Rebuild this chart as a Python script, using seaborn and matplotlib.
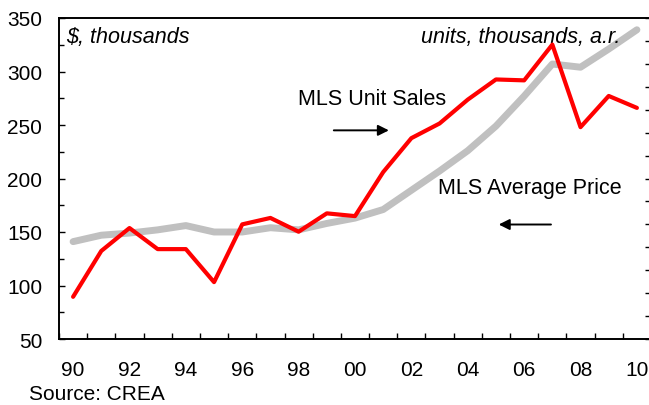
import matplotlib
matplotlib.use('Agg')
import matplotlib.pyplot as plt
from matplotlib.ticker import MultipleLocator, FixedLocator
import numpy as np
import pandas as pd
import seaborn as sns

years = list(range(1990, 2011))
# MLS average price, $ thousands (left axis)
avg_price = [141, 147, 149, 152, 156, 150, 150, 154, 152, 158, 163,
             171, 189, 207, 226, 249, 277, 307, 304, 321, 339]
# MLS unit sales, thousands a.r. (right axis, labels cut off in the original)
unit_sales = [246, 296, 321, 298, 298, 262, 325, 332, 317, 337, 334,
              382, 419, 435, 461, 483, 482, 521, 431, 465, 452]
tick_labels = ['90', '92', '94', '96', '98', '00', '02', '04', '06', '08', '10']

df = pd.DataFrame({'idx': np.arange(len(years)), 'year': years,
                   'price': avg_price, 'sales': unit_sales})

sns.set_style('white')
plt.rcParams['font.family'] = ['Liberation Sans', 'DejaVu Sans']
plt.rcParams['text.color'] = 'black'
plt.rcParams['xtick.color'] = 'black'
plt.rcParams['ytick.color'] = 'black'

fig = plt.figure(figsize=(6.49, 4.06), dpi=100)
ax = fig.add_axes([59 / 649, 66 / 406, 592 / 649, 321 / 406])

sns.lineplot(data=df, x='idx', y='price', ax=ax, color='#c0c0c0', lw=5,
             solid_capstyle='round')
ax2 = ax.twinx()
sns.lineplot(data=df, x='idx', y='sales', ax=ax2, color='#ff0000', lw=3,
             solid_capstyle='round')

ax.set_xlim(-0.5, 20.5)
ax.set_ylim(50, 350)
ax2.set_ylim(200, 550)

# category style x axis: ticks between years, labels every other year
ax.xaxis.set_major_locator(FixedLocator(np.arange(0, 21, 2)))
ax.set_xticklabels(tick_labels)
ax.xaxis.set_minor_locator(FixedLocator(np.arange(-0.5, 21, 1)))
ax.tick_params(axis='x', which='major', length=0, pad=15, labelsize=15)
ax.tick_params(axis='x', which='minor', direction='in', length=4.5, width=1,
               bottom=True)

ax.yaxis.set_major_locator(MultipleLocator(50))
ax.yaxis.set_minor_locator(MultipleLocator(25))
ax.tick_params(axis='y', which='major', direction='in', length=4.5, width=1,
               pad=12, labelsize=15, left=True)
ax.tick_params(axis='y', which='minor', direction='in', length=3.5, width=1,
               left=True)

ax2.yaxis.set_major_locator(MultipleLocator(50))
ax2.yaxis.set_minor_locator(MultipleLocator(25))
ax2.tick_params(axis='y', which='both', direction='in', length=4, width=1,
                right=True, labelright=False)

ax.set_xlabel('')
ax.set_ylabel('')
ax2.set_ylabel('')
for a in (ax, ax2):
    for s in a.spines.values():
        s.set_color('black')
        s.set_linewidth(1.2)
ax.spines['right'].set_visible(False)

ax.text(0.012, 0.975, '$, thousands', transform=ax.transAxes, ha='left',
        va='top', fontsize=15.5, style='italic')
ax.text(0.948, 0.975, 'units, thousands, a.r.', transform=ax.transAxes,
        ha='right', va='top', fontsize=15.5, style='italic')

ax.text(10.6, 275, 'MLS Unit Sales', ha='center', va='center', fontsize=15.5)
ax.annotate('', xy=(11.3, 245), xytext=(9.15, 245),
            arrowprops=dict(arrowstyle='-|>', color='black', lw=1.4,
                            mutation_scale=16))
ax.text(16.2, 192, 'MLS Average Price', ha='center', va='center', fontsize=15.5)
ax.annotate('', xy=(15.0, 157), xytext=(17.05, 157),
            arrowprops=dict(arrowstyle='-|>', color='black', lw=1.4,
                            mutation_scale=16))

fig.text(29 / 649, 1 - 395 / 406, 'Source: CREA', ha='left', va='center',
         fontsize=15)

fig.savefig('out.png', dpi=100)
